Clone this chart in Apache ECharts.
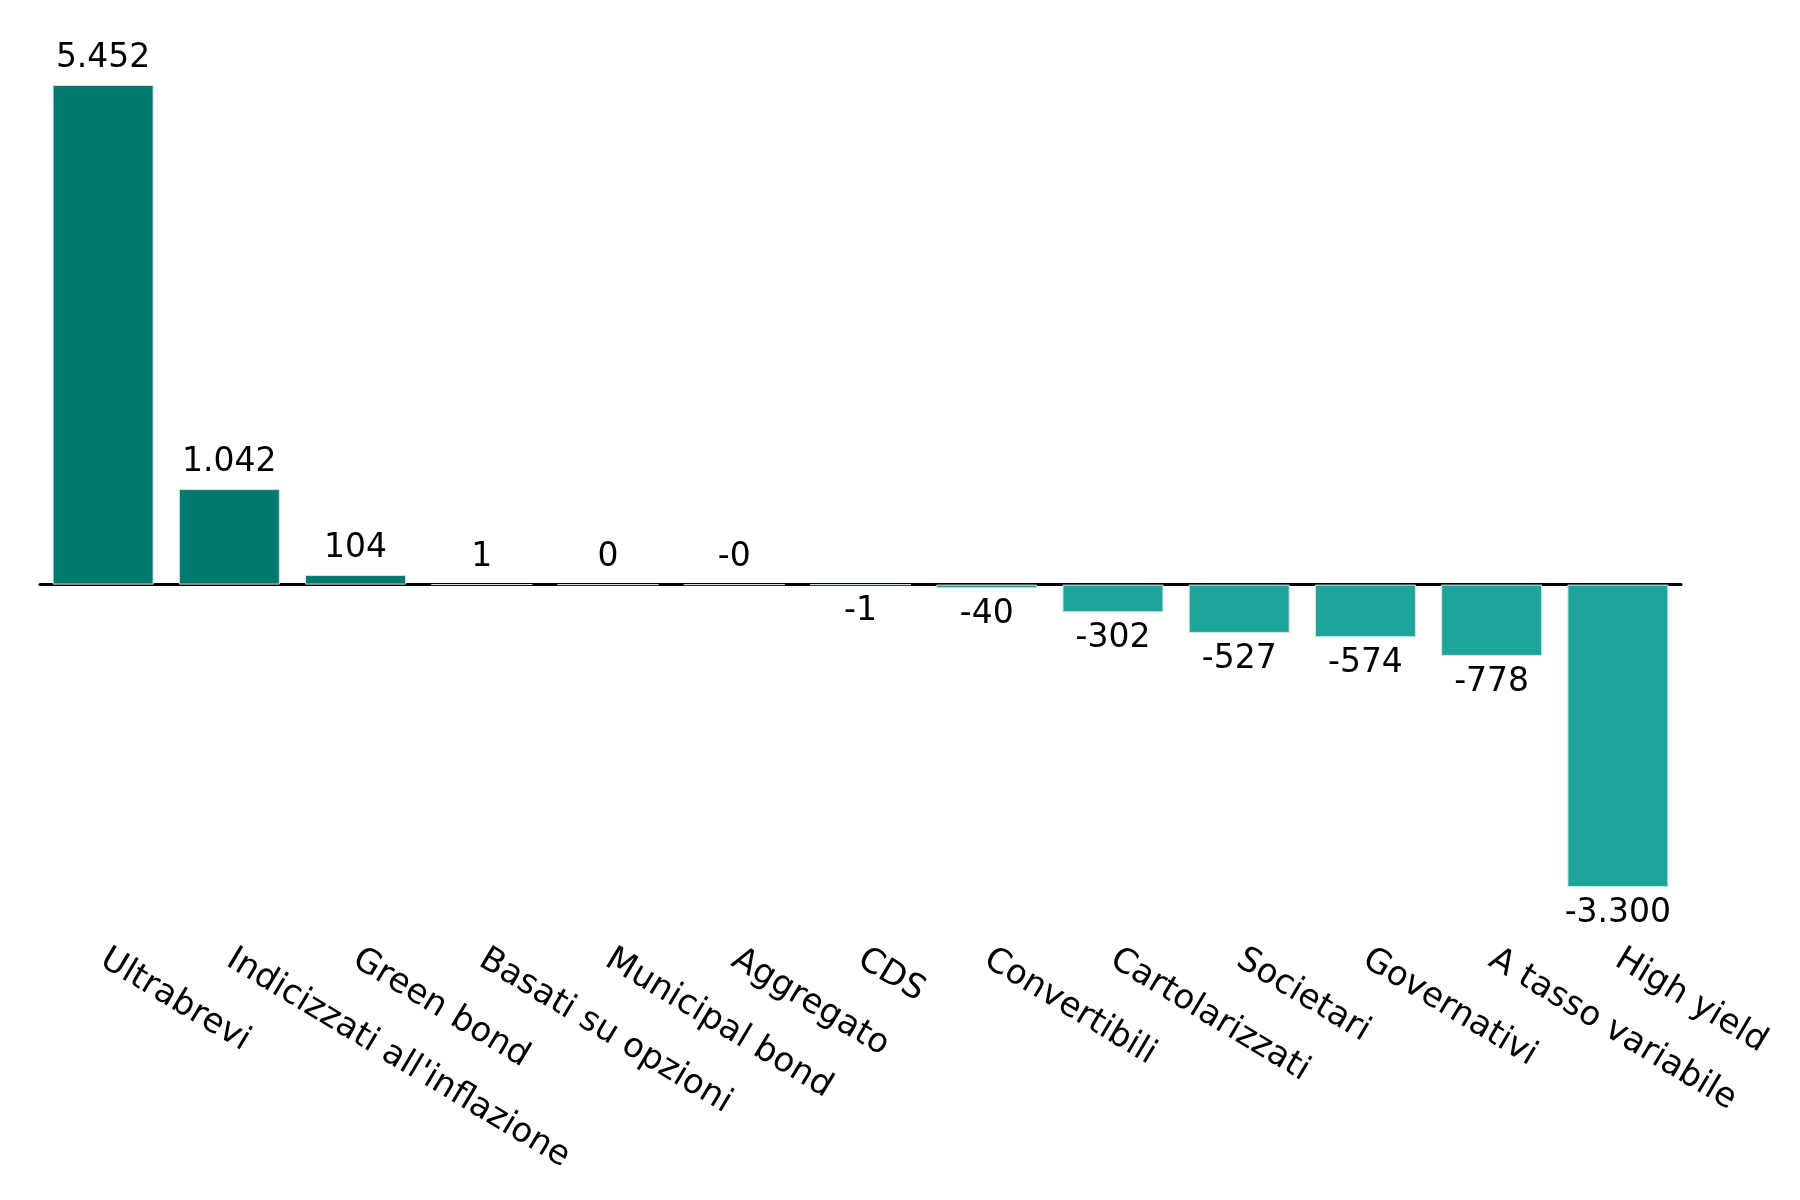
<!DOCTYPE html>
<html>
<head>
<meta charset="utf-8">
<script src="https://cdn.jsdelivr.net/npm/echarts@6/dist/echarts.min.js"></script>
<style>
  html, body { margin: 0; padding: 0; background: #fff; }
  #main { width: 1800px; height: 1200px; }
</style>
</head>
<body>
<div id="main"></div>
<script>
// categorie e valori
var categories = ['Ultrabrevi', "Indicizzati all'inflazione", 'Green bond', 'Basati su opzioni',
  'Municipal bond', 'Aggregato', 'CDS', 'Convertibili', 'Cartolarizzati', 'Societari',
  'Governativi', 'A tasso variabile', 'High yield'];
var values = [5452, 1042, 104, 1, 0, 0, -1, -40, -302, -527, -574, -778, -3300];
// testo delle etichette come mostrato (separatore migliaia ".")
var valueLabels = ['5.452', '1.042', '104', '1', '0', '-0', '-1', '-40', '-302', '-527', '-574', '-778', '-3.300'];
// "-0" sta sopra l'asse come i valori positivi
var labelAbove = [true, true, true, true, true, true, false, false, false, false, false, false, false];

var darkTeal = '#00796F';
var lightTeal = '#1DA59D';
var font = 'DejaVu Sans';

var barData = values.map(function (v, i) {
  return {
    value: v,
    itemStyle: { color: labelAbove[i] ? darkTeal : lightTeal },
    label: {
      position: labelAbove[i] ? 'top' : 'bottom',
      distance: 10
    }
  };
});

var option = {
  animation: false,
  backgroundColor: '#fff',
  grid: { left: 40, right: 119, top: 85, bottom: 313, containLabel: false },
  xAxis: [
    {
      // linea dello zero
      type: 'category',
      data: categories,
      axisLine: { show: true, onZero: true, lineStyle: { color: '#000', width: 3 } },
      axisTick: { show: false },
      axisLabel: { show: false }
    },
    {
      // etichette in basso
      type: 'category',
      data: categories,
      position: 'bottom',
      axisLine: { show: false, onZero: false },
      axisTick: { show: false },
      axisLabel: {
        show: true,
        rotate: -31,
        margin: 70,
        interval: 0,
        color: '#000',
        fontFamily: font,
        fontSize: 34
      }
    }
  ],
  yAxis: {
    type: 'value',
    min: -3300,
    max: 5452,
    show: false,
    splitLine: { show: false }
  },
  series: [{
    type: 'bar',
    xAxisIndex: 0,
    data: barData,
    barCategoryGap: '20%',
    itemStyle: { borderColor: '#d6e4e2', borderWidth: 1 },
    label: {
      show: true,
      color: '#000',
      fontFamily: font,
      fontSize: 33,
      formatter: function (p) { return valueLabels[p.dataIndex]; }
    }
  }]
};

var myChart = echarts.init(document.getElementById('main'));
myChart.setOption(option);
</script>
</body>
</html>
